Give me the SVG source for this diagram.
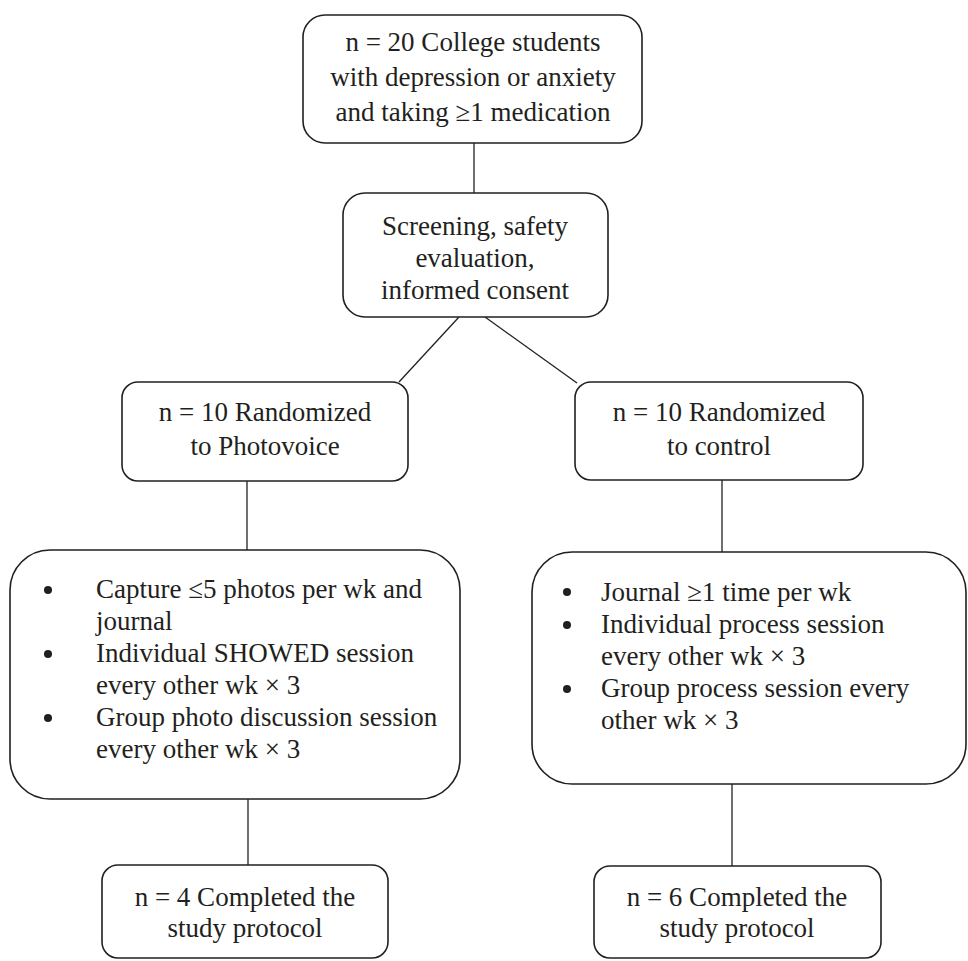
<svg xmlns="http://www.w3.org/2000/svg" width="968" height="961" viewBox="0 0 968 961">
<style>
.box{fill:#fff;stroke:#231f20;stroke-width:1.6}
.t{font-family:"Liberation Serif","Times New Roman",serif;font-size:27px;fill:#231f20}
.c{text-anchor:middle}
.ln{stroke:#231f20;stroke-width:1.3;fill:none}
.dot{fill:#231f20}
</style>
<rect width="968" height="961" fill="#fff"/>
<g id="connectors">
<line class="ln" x1="474" y1="143" x2="474" y2="193"/>
<line class="ln" x1="459" y1="317" x2="399" y2="382"/>
<line class="ln" x1="485" y1="317" x2="577" y2="383"/>
<line class="ln" x1="247" y1="481" x2="247" y2="550"/>
<line class="ln" x1="722" y1="480" x2="722" y2="552"/>
<line class="ln" x1="248" y1="799" x2="248" y2="865"/>
<line class="ln" x1="732" y1="784" x2="732" y2="866"/>
</g>
<g id="n1">
<rect class="box" x="303" y="15" width="339" height="128" rx="22"/>
<text class="t c" x="473" y="51">n = 20 College students</text>
<text class="t c" x="473" y="86">with depression or anxiety</text>
<text class="t c" x="473" y="121">and taking ≥1 medication</text>
</g>
<g id="n2">
<rect class="box" x="343" y="193" width="265" height="124" rx="22"/>
<text class="t c" x="475" y="235">Screening, safety</text>
<text class="t c" x="475" y="267">evaluation,</text>
<text class="t c" x="475" y="299">informed consent</text>
</g>
<g id="n3">
<rect class="box" x="122" y="382" width="286" height="99" rx="16"/>
<text class="t c" x="265" y="421">n = 10 Randomized</text>
<text class="t c" x="265" y="455">to Photovoice</text>
</g>
<g id="n4">
<rect class="box" x="575" y="382" width="288" height="98" rx="16"/>
<text class="t c" x="719" y="421">n = 10 Randomized</text>
<text class="t c" x="719" y="455">to control</text>
</g>
<g id="n5">
<rect class="box" x="10" y="550" width="450" height="249" rx="40"/>
<circle class="dot" cx="48" cy="590" r="4"/>
<circle class="dot" cx="48" cy="654" r="4"/>
<circle class="dot" cx="48" cy="718" r="4"/>
<text class="t" x="96" y="598">Capture ≤5 photos per wk and</text>
<text class="t" x="96" y="630">journal</text>
<text class="t" x="96" y="662">Individual SHOWED session</text>
<text class="t" x="96" y="694">every other wk × 3</text>
<text class="t" x="96" y="726">Group photo discussion session</text>
<text class="t" x="96" y="758">every other wk × 3</text>
</g>
<g id="n6">
<rect class="box" x="532" y="552" width="434" height="232" rx="40"/>
<circle class="dot" cx="567" cy="592" r="4"/>
<circle class="dot" cx="567" cy="625" r="4"/>
<circle class="dot" cx="567" cy="689" r="4"/>
<text class="t" x="601" y="601">Journal ≥1 time per wk</text>
<text class="t" x="601" y="633">Individual process session</text>
<text class="t" x="601" y="665">every other wk × 3</text>
<text class="t" x="601" y="697">Group process session every</text>
<text class="t" x="601" y="729">other wk × 3</text>
</g>
<g id="n7">
<rect class="box" x="102" y="865" width="286" height="93" rx="16"/>
<text class="t c" x="245" y="906">n = 4 Completed the</text>
<text class="t c" x="245" y="937">study protocol</text>
</g>
<g id="n8">
<rect class="box" x="594" y="866" width="287" height="92" rx="16"/>
<text class="t c" x="737" y="906">n = 6 Completed the</text>
<text class="t c" x="737" y="937">study protocol</text>
</g>
</svg>
